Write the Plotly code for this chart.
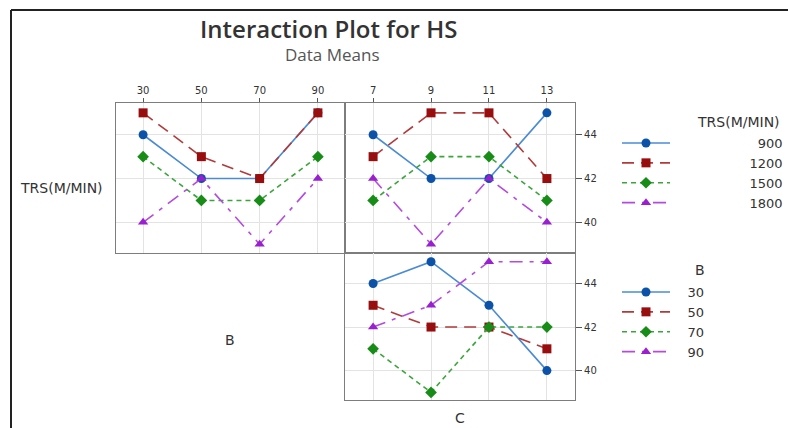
import plotly.graph_objects as go

# ---- data ----
B_levels = [30, 50, 70, 90]
C_levels = [7, 9, 11, 13]
TRS_levels = ["900", "1200", "1500", "1800"]
B_names = ["30", "50", "70", "90"]

# HS means vs B, one list per TRS level
hs_B_trs900 = [44, 42, 42, 45]
hs_B_trs1200 = [45, 43, 42, 45]
hs_B_trs1500 = [43, 41, 41, 43]
hs_B_trs1800 = [40, 42, 39, 42]

# HS means vs C, one list per TRS level
hs_C_trs900 = [44, 42, 42, 45]
hs_C_trs1200 = [43, 45, 45, 42]
hs_C_trs1500 = [41, 43, 43, 41]
hs_C_trs1800 = [42, 39, 42, 40]

# HS means vs C, one list per B level
hs_C_b30 = [44, 45, 43, 40]
hs_C_b50 = [43, 42, 42, 41]
hs_C_b70 = [41, 39, 42, 42]
hs_C_b90 = [42, 43, 45, 45]

# ---- styles ----
W, H = 788, 428
line_cols = ["#4a8bd4", "#b23a3a", "#3aa53a", "#b44ae0"]
mark_cols = ["#0b52a8", "#980d0d", "#178c17", "#9a1fd0"]
symbols = ["circle", "square", "diamond", "triangle-up"]
dashes = ["solid", "12px,7px", "5px,4px", "13px,7px,4px,7px"]

def px(x0, x1):
    return [x0 / W, x1 / W]

def py(y0, y1):  # pixel top, pixel bottom -> paper domain
    return [1 - y1 / H, 1 - y0 / H]

fig = go.Figure()

B_series = [hs_B_trs900, hs_B_trs1200, hs_B_trs1500, hs_B_trs1800]
C_series = [hs_C_trs900, hs_C_trs1200, hs_C_trs1500, hs_C_trs1800]
CB_series = [hs_C_b30, hs_C_b50, hs_C_b70, hs_C_b90]

fsp = "\u2007"   # figure space (digit width)
psp = "\u2008"   # punctuation space
for i, name in enumerate(TRS_levels):
    lbl = psp * 2 + fsp * (12 - len(name)) + name
    common = dict(
        mode="lines+markers",
        line=dict(color=line_cols[i], width=1.6, dash=dashes[i]),
        marker=dict(color=mark_cols[i], symbol=symbols[i], size=9),
        legendgroup="trs" + name,
        legend="legend",
        name=lbl,
    )
    fig.add_trace(go.Scatter(x=B_levels, y=B_series[i], xaxis="x", yaxis="y",
                             showlegend=True, **common))
    fig.add_trace(go.Scatter(x=C_levels, y=C_series[i], xaxis="x2", yaxis="y2",
                             showlegend=False, **common))

for i, name in enumerate(B_names):
    fig.add_trace(go.Scatter(
        x=C_levels, y=CB_series[i], xaxis="x3", yaxis="y3",
        mode="lines+markers",
        line=dict(color=line_cols[i], width=1.6, dash=dashes[i]),
        marker=dict(color=mark_cols[i], symbol=symbols[i], size=9),
        name=fsp + psp + name, legend="legend2", showlegend=True,
    ))

ax_common = dict(
    showline=True, mirror=True, linecolor="#7d7d7d", linewidth=1.1,
    showgrid=True, gridcolor="#e3e3e3", gridwidth=1, zeroline=False,
    tickfont=dict(family="DejaVu Sans", size=10, color="#333"),
    ticks="outside", ticklen=4, tickcolor="#555",
)
ax_noticks = {k: v for k, v in ax_common.items() if k != "ticks"}
yr = [38.6, 45.45]

leg_font = dict(family="DejaVu Sans", size=13, color="#333")
lab_font = dict(family="DejaVu Sans", size=14, color="#333")

def ann(text, x, y, font, xanchor="center"):
    return dict(text=text, x=x / W, y=1 - y / H, xref="paper", yref="paper",
                xanchor=xanchor, yanchor="middle", showarrow=False, font=font)

fig.update_layout(
    width=W, height=H,
    margin=dict(l=0, r=0, t=0, b=0, autoexpand=False),
    paper_bgcolor="white", plot_bgcolor="white",
    xaxis=dict(domain=px(116, 345), anchor="y", side="top", range=[20.7, 99.3],
               tickvals=B_levels, **ax_common),
    yaxis=dict(domain=py(103, 253), anchor="x", range=yr, tickvals=[40, 42, 44],
               showticklabels=False, ticks="", **ax_noticks),
    xaxis2=dict(domain=px(345, 575), anchor="y2", side="top", range=[6.03, 13.97],
                tickvals=C_levels, **ax_common),
    yaxis2=dict(domain=py(103, 253), anchor="x2", side="right", range=yr,
                tickvals=[40, 42, 44], **{**ax_common, "ticklen": 6}),
    xaxis3=dict(domain=px(345, 575), anchor="y3", range=[6.03, 13.97],
                tickvals=C_levels, showticklabels=False, ticks="", **ax_noticks),
    yaxis3=dict(domain=py(253, 400), anchor="x3", side="right", range=[38.65, 45.4],
                tickvals=[40, 42, 44], **{**ax_common, "ticklen": 6}),
    legend=dict(x=617 / W, y=1 - 128 / H, xanchor="left", yanchor="top",
                bgcolor="rgba(0,0,0,0)", itemwidth=48, tracegroupgap=0,
                font=leg_font),
    legend2=dict(x=617 / W, y=1 - 277 / H, xanchor="left", yanchor="top",
                 bgcolor="rgba(0,0,0,0)", itemwidth=48,
                 font=leg_font),
    font=dict(family="Open Sans", color="#333"),
    annotations=[
        ann("Interaction Plot for HS", 328, 28,
            dict(family="Open Sans", size=24, color="#333", weight=600)),
        ann("Data Means", 332, 55, dict(family="Open Sans", size=17, color="#555")),
        ann("TRS(M/MIN)", 782, 122, lab_font, xanchor="right"),
        ann("B", 700, 270, lab_font),
        ann("TRS(M/MIN)", 61, 188, lab_font),
        ann("B", 230, 340, lab_font),
        ann("C", 460, 418, lab_font),
    ],
    shapes=[
        dict(type="line", xref="paper", yref="paper", x0=11 / W, x1=11 / W, y0=0, y1=1 - 10 / H,
             line=dict(color="#222", width=2)),
        dict(type="line", xref="paper", yref="paper", x0=11 / W, x1=1, y0=1 - 10 / H, y1=1 - 10 / H,
             line=dict(color="#222", width=2)),
    ],
)

fig.write_html("out.html", post_script="document.body.style.margin='0';",
               config={"displayModeBar": False})
